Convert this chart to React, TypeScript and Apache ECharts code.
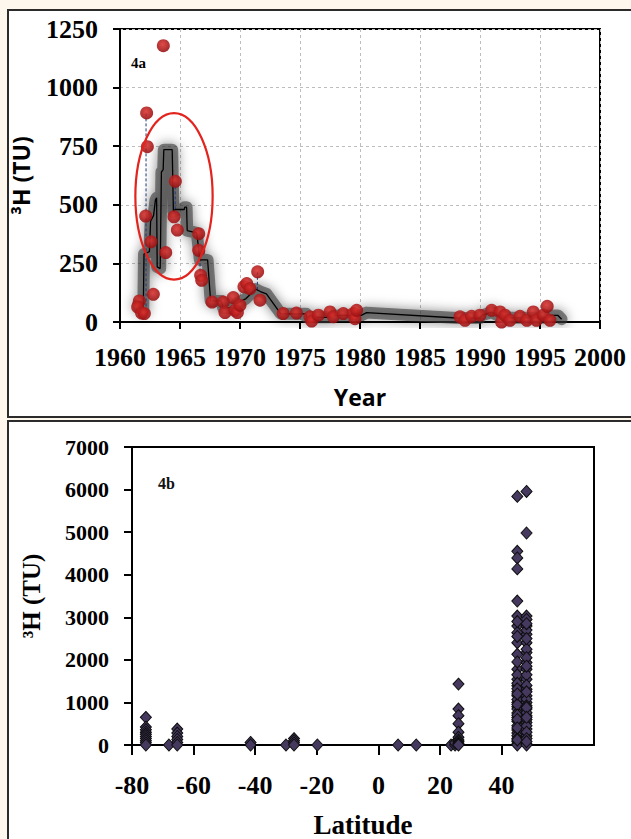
import React, { useEffect, useRef } from "react";
import * as echarts from "echarts";

// ---- Panel 4a: tritium in precipitation vs year ----
const stepYears = [1961.5, 1961.65, 1961.94, 1962.0, 1962.45, 1962.55, 1962.8, 1962.95, 1963.05, 1963.1, 1963.35, 1963.45, 1963.6, 1963.65, 1964.35, 1964.45, 1964.6, 1965.35, 1965.4, 1965.55, 1965.6, 1966.4, 1966.65, 1967.3, 1967.55, 1968.45, 1968.6, 1969.55, 1969.75, 1970.5, 1971.3, 1971.7, 1972.2, 1973.4, 1975.5, 1975.55, 1977.5, 1977.65, 1980.1, 1980.55, 1988.1, 1990.0, 1990.15, 1990.95, 1991.6, 1992.6, 1995.7, 1995.85, 1996.5, 1996.8];
const stepValues = [75, 60, 50, 290, 300, 430, 455, 520, 530, 235, 228, 640, 650, 735, 735, 470, 480, 480, 490, 490, 390, 380, 265, 265, 90, 90, 60, 60, 80, 100, 140, 130, 120, 35, 35, 20, 20, 28, 28, 40, 17, 17, 28, 42, 25, 18, 18, 28, 28, 12];

const dotYears = [1963.61, 1962.22, 1962.28, 1962.14, 1962.58, 1963.81, 1962.78, 1961.61, 1961.47, 1961.8, 1962.03, 1964.61, 1964.5, 1964.78, 1966.56, 1966.56, 1966.72, 1966.81, 1967.67, 1968.61, 1968.75, 1969.44, 1969.58, 1969.78, 1970.0, 1970.33, 1970.56, 1970.83, 1971.47, 1971.67, 1973.6, 1974.7, 1975.83, 1975.97, 1976.53, 1977.5, 1977.78, 1978.61, 1979.44, 1979.58, 1979.72, 1988.33, 1988.75, 1989.3, 1990.0, 1990.97, 1991.67, 1991.8, 1992.08, 1992.5, 1993.33, 1993.9, 1994.44, 1994.7, 1995.28, 1995.6, 1995.83];
const dotValues = [1179, 892, 748, 452, 342, 296, 118, 90, 64, 38, 36, 600, 449, 392, 377, 306, 199, 178, 85, 85, 40, 104, 50, 40, 71, 150, 164, 142, 214, 93, 36, 38, 22, 4, 29, 43, 22, 36, 36, 14, 50, 22, 7, 24, 29, 50, 43, 0, 29, 7, 24, 7, 43, 7, 29, 67, 7];

// dashed connectors: [year, from, to]
const dashYears = [1962.17, 1964.6, 1966.67, 1971.45];
const dashFrom = [890, 600, 292, 214];
const dashTo = [45, 449, 192, 135];

// highlighted period (ellipse): centre year, centre value, half-width (yr), half-height (TU)
const ellipseSpec = [1964.5, 536, 3.22, 355];

const yearMin = 1960, yearMax = 2000, yearStep = 5;
const tuMinA = 0, tuMaxA = 1250, tuStepA = 250;

// ---- Panel 4b: tritium vs latitude ----
const latitudes = [
  -75.5, -75.5, -75.5, -75.5, -75.5, -75.5, -75.5, -75.5, -75.5, -75.5,
  -68, -65.3, -65.3, -65.3, -65.3, -65.3, -65.3,
  -41.5, -41.5, -30, -27.4, -27.4, -27.4, -27.4, -19.8,
  6.4, 12.3, 23.6, 24.9, 24.9,
  26, 26, 26, 26, 26, 26, 26, 26, 26, 26, 26,
  45.1, 45.1, 45.1, 45.1, 45.1, 45.1, 45.1, 45.1, 45.1, 45.1, 45.1, 45.1, 45.1, 45.1, 45.1, 45.1, 45.1, 45.1, 45.1, 45.1, 45.1, 45.1, 45.1, 45.1, 45.1, 45.1, 45.1, 45.1, 45.1, 45.1, 45.1, 45.1,
  45.1, 45.1, 45.1, 45.1, 45.1, 45.1, 45.1, 45.1, 45.1, 45.1,
  48.1, 48.1, 48.1, 48.1, 48.1, 48.1, 48.1, 48.1, 48.1, 48.1, 48.1, 48.1, 48.1, 48.1, 48.1, 48.1, 48.1, 48.1, 48.1, 48.1, 48.1, 48.1, 48.1, 48.1, 48.1, 48.1, 48.1, 48.1, 48.1, 48.1,
  48.1, 48.1, 48.1, 48.1, 48.1, 48.1, 48.1, 48.1, 48.1, 48.1
];
const tritium = [
  649, 420, 360, 300, 250, 200, 150, 100, 50, 0,
  0, 375, 280, 200, 130, 60, 0,
  60, 0, 0, 150, 100, 50, 0, 0,
  0, 0, 0, 0, 50,
  1430, 843, 690, 500, 300, 180, 120, 80, 40, 20, 0,
  5840, 4551, 4395, 4137, 3380, 3028, 2794, 2638, 2404, 2131, 1780, 1546, 1390, 1250, 1155, 1000, 900, 843, 750, 648, 560, 453, 350, 280, 218, 150, 80, 23, 0, 1650, 1070, 950,
  2900, 2550, 1950, 1450, 1320, 1200, 700, 600, 400, 120,
  5956, 4980, 3028, 2950, 2794, 2599, 2404, 2170, 1936, 1780, 1546, 1312, 1155, 999, 843, 687, 531, 375, 218, 23, 0, 2700, 2250, 1650, 1400, 1080, 920, 760, 600, 450,
  2850, 2500, 2050, 1850, 1250, 880, 650, 300, 150, 80
];

const latMin = -80, latMax = 70, latStep = 20;
const latTickLabels = [-80, -60, -40, -20, 0, 20, 40, 60];
const tuMinB = 0, tuMaxB = 7000, tuStepB = 1000;

const SERIF = "'Liberation Serif', 'Times New Roman', serif";
const SANS = "'Open Sans', 'Noto Sans', sans-serif";
const CREAM = "#fdf7ee";

export default function App() {
  const ref = useRef<HTMLDivElement>(null);

  useEffect(() => {
    document.body.style.margin = "0";
    document.body.style.background = CREAM;
    if (!ref.current) return;
    const chart = echarts.init(ref.current, null, { renderer: "svg" });

    const stepData = stepYears.map((y, i) => [y, stepValues[i]]);
    const dotData = dotYears.map((y, i) => [y, dotValues[i]]);
    const scatterB = latitudes.map((l, i) => [l, tritium[i]]);
    const plain = (v: number) => String(v);

    const dashSeries = dashYears.map((y, i) => ({
      type: "line",
      xAxisIndex: 0,
      yAxisIndex: 0,
      data: [[y, dashFrom[i]], [y, dashTo[i]]],
      symbol: "none",
      lineStyle: { color: "#1d3b7a", width: 1, type: [3, 2] },
      z: 3,
      silent: true,
    }));

    const redGrad = new echarts.graphic.RadialGradient(0.45, 0.4, 0.6, [
      { offset: 0, color: "rgb(220, 50, 46)" },
      { offset: 1, color: "rgb(150, 14, 16)" },
    ]);

    const axisLabelA = { fontFamily: SERIF, fontWeight: "bold", fontSize: 26, color: "#000", formatter: plain };

    chart.setOption({
      animation: false,
      backgroundColor: "transparent",
      grid: [
        { left: 120, top: 29, width: 480, height: 293, show: true, borderColor: "#000", borderWidth: 2, backgroundColor: "transparent", containLabel: false, outerBoundsMode: "none" },
        { left: 132, top: 447, width: 462, height: 298, show: true, borderColor: "#000", borderWidth: 2, backgroundColor: "transparent", containLabel: false, outerBoundsMode: "none" },
      ],
      xAxis: [
        {
          gridIndex: 0, type: "value", min: yearMin, max: yearMax, interval: yearStep,
          name: "Year", nameLocation: "middle", nameGap: 63, nameMoveOverlap: false,
          nameTextStyle: { fontFamily: SANS, fontWeight: "bold", fontSize: 23, color: "#000" },
          axisLine: { onZero: false, lineStyle: { color: "#000", width: 2 } },
          axisTick: { inside: false, length: 7, lineStyle: { color: "#000", width: 2 } },
          axisLabel: { ...axisLabelA, margin: 22 },
          splitLine: { show: true, lineStyle: { color: "#bdbdbd", type: [3, 3], width: 1 } },
        },
        {
          gridIndex: 1, type: "value", min: latMin, max: latMax, interval: latStep,
          name: "Latitude", nameLocation: "middle", nameGap: 66, nameMoveOverlap: false,
          nameTextStyle: { fontFamily: SERIF, fontWeight: "bold", fontSize: 27, color: "#000" },
          axisLine: { onZero: false, lineStyle: { color: "#000", width: 2 } },
          axisTick: { inside: false, length: 10, lineStyle: { color: "#000", width: 2 }, customValues: latTickLabels },
          axisLabel: { fontFamily: SERIF, fontWeight: "bold", fontSize: 26, color: "#000", margin: 27, customValues: latTickLabels, showMaxLabel: false, formatter: plain },
          splitLine: { show: false },
        },
      ],
      yAxis: [
        {
          gridIndex: 0, type: "value", min: tuMinA, max: tuMaxA, interval: tuStepA,
          name: "³H (TU)", nameLocation: "middle", nameGap: 88, nameMoveOverlap: false,
          nameTextStyle: { fontFamily: SANS, fontWeight: "bold", fontSize: 23, color: "#000" },
          axisLine: { show: true, onZero: false, lineStyle: { color: "#000", width: 2 } },
          axisTick: { show: true, inside: false, length: 7, lineStyle: { color: "#000", width: 2 } },
          axisLabel: { ...axisLabelA, margin: 22 },
          splitLine: { show: true, lineStyle: { color: "#bdbdbd", type: [3, 3], width: 1 } },
        },
        {
          gridIndex: 1, type: "value", min: tuMinB, max: tuMaxB, interval: tuStepB,
          name: "³H (TU)", nameLocation: "middle", nameGap: 88, nameMoveOverlap: false,
          nameTextStyle: { fontFamily: SERIF, fontWeight: "bold", fontSize: 25, color: "#000" },
          axisLine: { show: true, onZero: false, lineStyle: { color: "#000", width: 2 } },
          axisTick: { show: true, inside: false, length: 8, lineStyle: { color: "#000", width: 2 } },
          axisLabel: { fontFamily: SERIF, fontWeight: "bold", fontSize: 22, color: "#000", margin: 23, formatter: plain },
          splitLine: { show: false },
        },
      ],
      graphic: [
        { type: "text", left: 131, top: 55, style: { text: "4a", fontFamily: SERIF, fontWeight: "bold", fontSize: 15, fill: "#000" } },
        { type: "text", left: 158, top: 475, style: { text: "4b", fontFamily: SERIF, fontWeight: "bold", fontSize: 16, fill: "#111" } },
      ],
      series: [
        {
          type: "line", xAxisIndex: 0, yAxisIndex: 0, data: stepData, symbol: "none",
          lineStyle: { color: "rgba(55,55,55,0.6)", width: 12, shadowBlur: 12, shadowColor: "rgba(0,0,0,0.75)", cap: "round", join: "round" },
          z: 1, silent: true,
        },
        ...dashSeries,
        {
          type: "line", xAxisIndex: 0, yAxisIndex: 0, data: stepData, symbol: "none",
          lineStyle: { color: "#000", width: 1.3 }, z: 4, silent: true,
        },
        {
          type: "scatter", xAxisIndex: 0, yAxisIndex: 0, data: dotData, symbol: "circle", symbolSize: 13,
          itemStyle: { color: redGrad, borderWidth: 0, opacity: 0.88 }, z: 5, silent: true,
        },
        {
          type: "custom", xAxisIndex: 0, yAxisIndex: 0, coordinateSystem: "cartesian2d", clip: false,
          data: [ellipseSpec], z: 6, silent: true,
          renderItem: (params: any, api: any) => {
            const c = api.coord([api.value(0), api.value(1)]);
            const s = api.size([api.value(2), api.value(3)]);
            return {
              type: "ellipse",
              shape: { cx: c[0], cy: c[1], rx: s[0], ry: s[1] },
              style: { fill: "none", stroke: "#e3231d", lineWidth: 2.2 },
            };
          },
        },
        {
          type: "scatter", xAxisIndex: 1, yAxisIndex: 1, data: scatterB, symbol: "diamond", symbolSize: [11, 12],
          itemStyle: { color: "#46395f", borderColor: "#0d0d0d", borderWidth: 1, opacity: 1 }, z: 5, silent: true,
        },
      ],
    });

    return () => chart.dispose();
  }, []);

  return (
    <div style={{ position: "relative", width: 631, height: 839, background: CREAM, overflow: "hidden" }}>
      <div style={{ position: "absolute", left: 7, top: 9, width: 660, height: 405, border: "2px solid #2b2b2b", background: "#fff" }} />
      <div style={{ position: "absolute", left: 7, top: 420, width: 660, height: 440, border: "2px solid #2b2b2b", background: "#fff" }} />
      <div ref={ref} style={{ position: "absolute", left: 0, top: 0, width: 631, height: 839 }} />
    </div>
  );
}
